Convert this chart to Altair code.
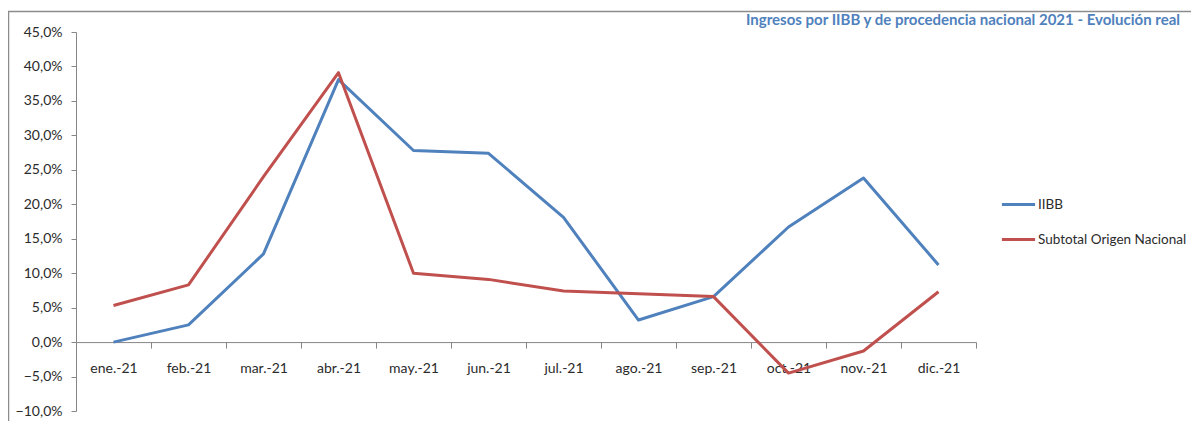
import altair as alt
import pandas as pd

months = ["ene.-21", "feb.-21", "mar.-21", "abr.-21", "may.-21", "jun.-21",
          "jul.-21", "ago.-21", "sep.-21", "oct.-21", "nov.-21", "dic.-21"]
iibb = [0.0, 2.5, 12.8, 38.1, 27.8, 27.4, 18.1, 3.2, 6.6, 16.7, 23.8, 11.2]
subtotal = [5.3, 8.3, 24.0, 39.1, 10.0, 9.1, 7.4, 7.0, 6.6, -4.5, -1.3, 7.3]
series_names = ["IIBB", "Subtotal Origen Nacional"]
series_colors = ["#4F81BD", "#C0504D"]
y_ticks = [-10, -5, 0, 5, 10, 15, 20, 25, 30, 35, 40, 45]
title_text = "Ingresos por IIBB y de procedencia nacional 2021 - Evolución real"

rows = []
for i, m in enumerate(months):
    rows.append({"mes": m, "serie": series_names[0], "valor": iibb[i], "orden": i})
    rows.append({"mes": m, "serie": series_names[1], "valor": subtotal[i], "orden": i})
df = pd.DataFrame(rows)

W, H = 900, 379
FONT = "Lato"
LABEL_COLOR = "#2b2b2b"
zero_offset = -H * 10 / 55

x_enc = alt.X("mes:N", sort=months,
              scale=alt.Scale(type="band", paddingInner=0, paddingOuter=0),
              bandPosition=0.5,
              axis=alt.Axis(title=None, labelAngle=0, offset=zero_offset,
                            domainColor="#868686", tickColor="#868686",
                            tickSize=6, tickBand="extent", labelPadding=13,
                            labelFont=FONT, labelFontSize=14, labelColor=LABEL_COLOR,
                            grid=False))
y_enc = alt.Y("valor:Q", scale=alt.Scale(domain=[-10, 45], nice=False, zero=False),
              axis=alt.Axis(title=None, values=y_ticks,
                            labelExpr="replace(format(datum.value, '.1f'), '.', ',') + '%'",
                            domainColor="#868686", tickColor="#868686", tickSize=5,
                            labelPadding=9, labelFont=FONT, labelFontSize=14,
                            labelColor=LABEL_COLOR, grid=False))

lines = alt.Chart(df).mark_line(strokeWidth=3, strokeJoin="round").encode(
    x=x_enc,
    y=y_enc,
    color=alt.Color("serie:N",
                    scale=alt.Scale(domain=series_names, range=series_colors),
                    legend=alt.Legend(title=None, orient="none", legendX=924, legendY=154,
                                      symbolType="stroke", symbolStrokeWidth=3,
                                      symbolSize=1100, rowPadding=10,
                                      labelFont=FONT, labelFontSize=13.5,
                                      labelColor=LABEL_COLOR, labelOffset=1)),
    order="orden:Q",
)

border_top = alt.Chart(pd.DataFrame({"a": [0]})).mark_rule(color="#8C8C8C", strokeWidth=1.5).encode(
    x=alt.value(-68), x2=alt.value(1120), y=alt.value(-20.5))
border_left = alt.Chart(pd.DataFrame({"a": [0]})).mark_rule(color="#8C8C8C", strokeWidth=1.5).encode(
    x=alt.value(-67.5), y=alt.value(-20.5), y2=alt.value(H + 10))

title = alt.Chart(pd.DataFrame({"t": [title_text]})).mark_text(
    align="right", baseline="alphabetic", font=FONT, fontSize=15, fontWeight="bold",
    color="#4F81BD").encode(x=alt.value(1104), y=alt.value(-7), text="t:N")

chart = alt.layer(border_top, border_left, title, lines).properties(
    width=W, height=H,
    autosize=alt.AutoSizeParams(type="none"),
    padding={"left": 68, "top": 24, "right": 215, "bottom": 12},
).configure_view(stroke=None)

chart.save("out.html", embed_options={"renderer": "svg", "actions": False})
